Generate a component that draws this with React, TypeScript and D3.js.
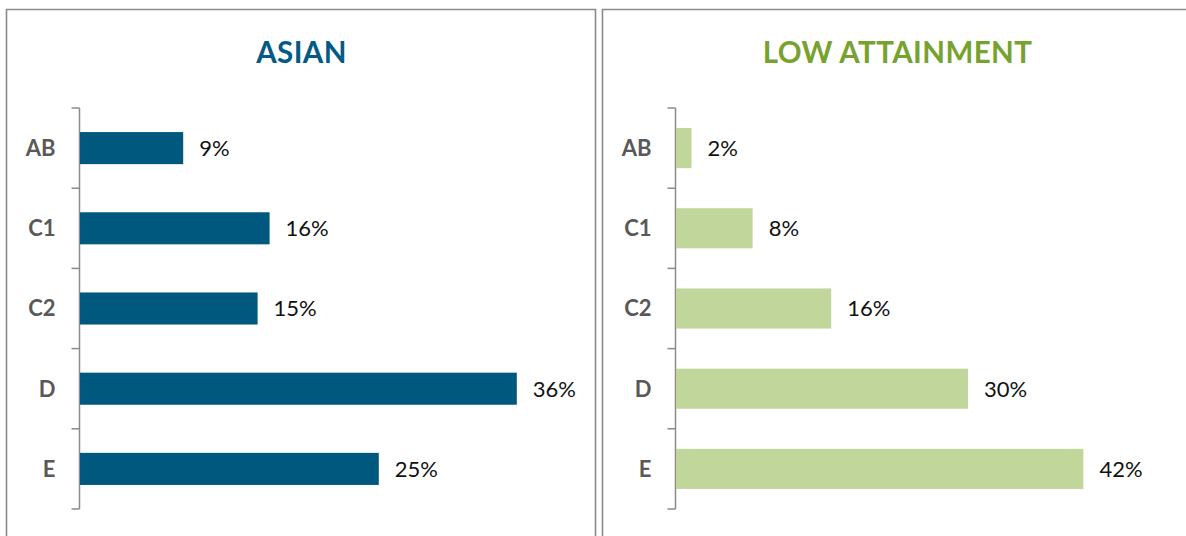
import { useEffect, useRef } from "react";
import { select, scaleBand, scaleLinear } from "d3";

const categories = ["AB", "C1", "C2", "D", "E"];
const asianValues = [8.6, 15.8, 14.8, 36.4, 24.9];
const asianLabels = ["9%", "16%", "15%", "36%", "25%"];
const lowValues = [1.6, 7.9, 16.0, 30.1, 42.0];
const lowLabels = ["2%", "8%", "16%", "30%", "42%"];

const W = 1186;
const H = 536;
const FONT = "Lato, 'Open Sans', sans-serif";
const GRAY = "#8a8a8a";

type Panel = {
  title: string;
  titleColor: string;
  barColor: string;
  values: number[];
  labels: string[];
  boxX: number;
  boxW: number;
  axisX: number;
  xMax: number;
  pxPerUnit: number;
  padInner: number;
  padOuter: number;
};

const panels: Panel[] = [
  {
    title: "ASIAN",
    titleColor: "#045a86",
    barColor: "#00587f",
    values: asianValues,
    labels: asianLabels,
    boxX: 6.5,
    boxW: 589,
    axisX: 79.5,
    xMax: 40,
    pxPerUnit: 12,
    padInner: 0.6,
    padOuter: 0.3,
  },
  {
    title: "LOW ATTAINMENT",
    titleColor: "#77a22f",
    barColor: "#c0d69b",
    values: lowValues,
    labels: lowLabels,
    boxX: 602.5,
    boxW: 620,
    axisX: 675.5,
    xMax: 50,
    pxPerUnit: 9.7,
    padInner: 0.5,
    padOuter: 0.25,
  },
];

export default function App() {
  const ref = useRef<SVGSVGElement>(null);

  useEffect(() => {
    const svg = select(ref.current);
    svg.selectAll("*").remove();

    panels.forEach((p) => {
      const g = svg.append("g");

      // panel frame (bottom edge runs off the picture)
      g.append("path")
        .attr("d", `M${p.boxX},${H + 5}V9.5H${p.boxX + p.boxW}V${H + 5}`)
        .attr("fill", "none")
        .attr("stroke", GRAY)
        .attr("stroke-width", 1.6);

      g.append("text")
        .attr("x", p.boxX + 295)
        .attr("y", 63)
        .attr("text-anchor", "middle")
        .attr("font-family", FONT)
        .attr("font-weight", 700)
        .attr("font-size", 29.5)
        .attr("letter-spacing", 0.4)
        .attr("fill", p.titleColor)
        .text(p.title);

      const y = scaleBand<string>()
        .domain(categories)
        .range([108, 509])
        .paddingInner(p.padInner)
        .paddingOuter(p.padOuter);

      const x0 = p.axisX + 0.5;
      const x = scaleLinear()
        .domain([0, p.xMax])
        .range([x0, x0 + p.xMax * p.pxPerUnit]);

      // category axis with ticks between bands
      g.append("line")
        .attr("x1", p.axisX)
        .attr("x2", p.axisX)
        .attr("y1", 108)
        .attr("y2", 509)
        .attr("stroke", GRAY)
        .attr("stroke-width", 1.5);
      const step = y.step();
      const ticks = categories.map((_, i) => 108 + i * step).concat([509]);
      g.selectAll(".tick")
        .data(ticks)
        .join("line")
        .attr("x1", p.axisX - 8)
        .attr("x2", p.axisX)
        .attr("y1", (d) => d)
        .attr("y2", (d) => d)
        .attr("stroke", GRAY)
        .attr("stroke-width", 1.5);

      g.selectAll(".cat")
        .data(categories)
        .join("text")
        .attr("x", p.axisX - 24)
        .attr("y", (d) => (y(d) ?? 0) + y.bandwidth() / 2)
        .attr("dy", "0.36em")
        .attr("text-anchor", "end")
        .attr("font-family", FONT)
        .attr("font-weight", 700)
        .attr("font-size", 22)
        .attr("fill", "#595959")
        .text((d) => d);

      g.selectAll(".bar")
        .data(p.values)
        .join("rect")
        .attr("x", x(0))
        .attr("y", (_, i) => y(categories[i]) ?? 0)
        .attr("width", (d) => x(d) - x(0))
        .attr("height", y.bandwidth())
        .attr("fill", p.barColor);

      g.selectAll(".val")
        .data(p.values)
        .join("text")
        .attr("x", (d) => x(d) + 16)
        .attr("y", (_, i) => (y(categories[i]) ?? 0) + y.bandwidth() / 2)
        .attr("dy", "0.36em")
        .attr("font-family", FONT)
        .attr("font-size", 22)
        .attr("fill", "#111")
        .text((_, i) => p.labels[i]);
    });
  }, []);

  return (
    <svg
      ref={ref}
      width={W}
      height={H}
      style={{ position: "absolute", left: 0, top: 0, background: "#fff" }}
    />
  );
}
